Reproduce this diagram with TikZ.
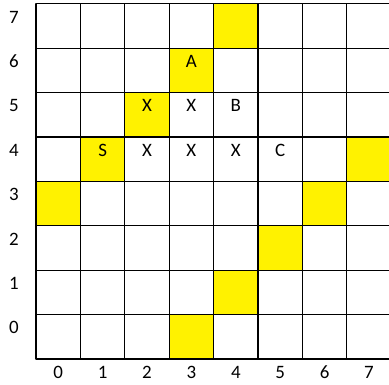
\documentclass[tikz,border=0pt]{standalone}
\usepackage{fontspec}
\setmainfont{Carlito}
\usepackage{tikz}
\usetikzlibrary{positioning}
\tikzset{
  every picture/.append style={line cap=round,line join=round},
  board line/.style={black,line width=1.3bp},
  board wall/.style={fill=yellow},
  board mark/.style={font=\fontsize{19}{22}\selectfont,inner sep=0pt},
  board axis/.style={font=\fontsize{19}{22}\selectfont,inner sep=0pt}
}

\begin{document}
\begin{tikzpicture}[x=44.4bp, y=44.4bp]
  \useasboundingbox (-36bp,-26bp) rectangle (353bp,359bp);
  % yellow squares
  \foreach \c/\r in {4/7,3/6,2/5,1/4,7/4,0/3,6/3,5/2,4/1,3/0}
    \fill[board wall] (\c,\r) rectangle ++(1,1);
  \draw[board line, step=1] (0,0) grid (8,8);
  % axis numbers
  \foreach \i in {0,...,7} {
    \node[board axis] (col\i) at (\i+0.5,-0.3) {\i};
    \node[board axis] (row\i) at (-0.5,\i+0.7) {\i};
  }
  % letters in the cells
  \node[board mark] (A) at (3.5,6.7) {A};
  \node[board mark] (x25) at (2.5,5.7) {X};
  \node[board mark] (x35) at (3.5,5.7) {X};
  \node[board mark] (B) at (4.5,5.7) {B};
  \node[board mark] (S) at (1.5,4.7) {S};
  \node[board mark] (x24) at (2.5,4.7) {X};
  \node[board mark] (x34) at (3.5,4.7) {X};
  \node[board mark] (x44) at (4.5,4.7) {X};
  \node[board mark] (C) at (5.5,4.7) {C};
\end{tikzpicture}
\end{document}
